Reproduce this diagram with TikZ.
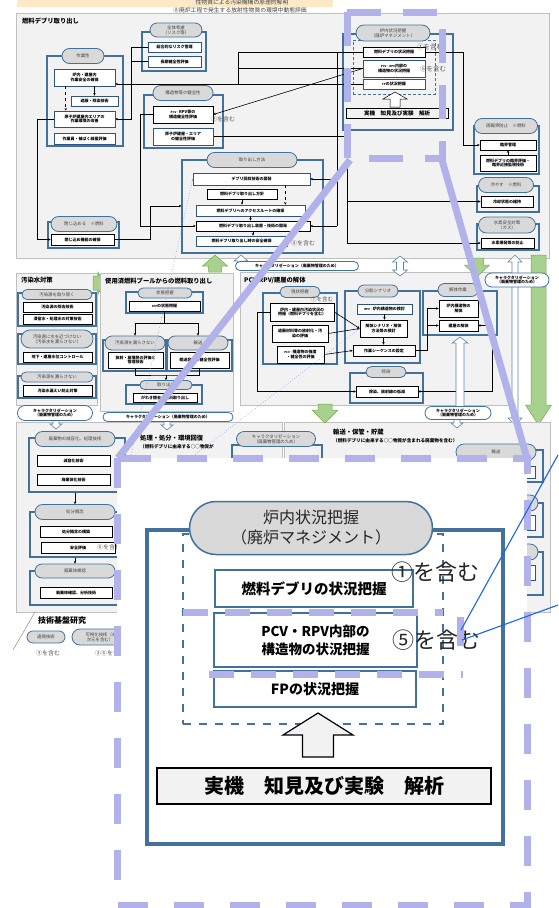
\documentclass[tikz,border=0pt]{standalone}
\usepackage{fontspec}
\setmainfont{Noto Sans CJK JP}
\usetikzlibrary{arrows.meta}
\definecolor{gb}{RGB}{65,113,156}
\definecolor{ib}{RGB}{47,84,130}
\definecolor{pg}{RGB}{242,242,242}
\definecolor{pb}{RGB}{191,191,191}
\definecolor{pl}{RGB}{217,217,217}
\definecolor{lav}{RGB}{178,178,235}
\definecolor{grn}{RGB}{169,209,142}
\definecolor{grnd}{RGB}{112,173,71}
\definecolor{bl}{RGB}{30,100,240}
\definecolor{peach}{RGB}{253,233,200}
\definecolor{dg}{RGB}{64,64,64}
\definecolor{labg}{RGB}{89,89,89}
\newcommand\ftiny{\fontsize{4}{4.7}\selectfont}
\newcommand\fsm{\fontsize{4.4}{5.2}\selectfont}
\newcommand\fti{\fontsize{6.3}{7}\selectfont}
\newcommand\bx[7][]{\pgfmathsetmacro\bxcx{(#3+#5)/2}\pgfmathsetmacro\bxcy{(#4+#6)/2}\pgfmathsetmacro\bxw{#5-#3}\pgfmathsetmacro\bxh{#6-#4}\node[ibox,minimum width=\bxw pt,minimum height=\bxh pt,#1] (#2) at (\bxcx,\bxcy) {#7};}
\newcommand\pl[7][]{\pgfmathsetmacro\plr{#6/2}\node[pill,minimum width=#5pt,minimum height=#6pt,rounded corners=\plr pt,#1] (#2) at (#3,#4) {#7};}
\newcommand\uparr[7]{\draw[#1] (#2,#3) -- (#2+#6,#3+#7) -- (#2+#5,#3+#7) -- (#2+#5,#4) -- (#2-#5,#4) -- (#2-#5,#3+#7) -- (#2-#6,#3+#7) -- cycle;}
\newcommand\dnarr[7]{\draw[#1] (#2,#3) -- (#2+#6,#3-#7) -- (#2+#5,#3-#7) -- (#2+#5,#4) -- (#2-#5,#4) -- (#2-#5,#3-#7) -- (#2-#6,#3-#7) -- cycle;}
\newcommand\dblarr[7]{\draw[#1] (#2,#3) -- (#2+#6,#3+#7) -- (#2+#5,#3+#7) -- (#2+#5,#4-#7) -- (#2+#6,#4-#7) -- (#2,#4) -- (#2-#6,#4-#7) -- (#2-#5,#4-#7) -- (#2-#5,#3+#7) -- (#2-#6,#3+#7) -- cycle;}
\begin{document}
\begin{tikzpicture}[x=1pt,y=-1pt,
 ln/.style={draw=black,line width=0.6pt},
 arr/.style={ln,-{Stealth[length=2.6pt,width=2.4pt]}},
 arr2/.style={ln,{Stealth[length=2.6pt,width=2.4pt]}-{Stealth[length=2.6pt,width=2.4pt]}},
 panel/.style={draw=pb,fill=pg,line width=0.8pt},
 grp/.style={draw=gb,line width=1.1pt,fill=none},
 ibox/.style={draw=ib,fill=white,line width=0.6pt,inner sep=0pt,align=center,font=\ftiny\bfseries},
 kb/.style={draw=black},
 pill/.style={draw=gb,fill=pl,line width=0.8pt,inner sep=0pt,align=center,font=\fsm,text=dg},
 cpill/.style={fill=white,font=\ftiny\bfseries,text=black},
 lab/.style={text=labg,font=\fontsize{6}{7}\selectfont,inner sep=0pt,anchor=west},
 ttl/.style={font=\fti\bfseries,anchor=west,inner sep=0pt},
 lavl/.style={draw=lav,line width=7pt},
 hol/.style={draw=black,fill=pg,line width=1.2pt},
 hol2/.style={draw=gb!85,fill=white,line width=0.6pt},
 grnarr/.style={draw=grnd,fill=grn,line width=0.5pt}]
\useasboundingbox (0,0) rectangle (558,908);
\fill[white] (0,0) rectangle (558,908);
% header
\fill[peach] (17,0) rectangle (333,7);
\node[font=\fontsize{5.8}{6}\selectfont,inner sep=0pt,text=dg] (h1) at (242,2.5) {性物質による汚染機構の原理的解明};
\node[font=\fontsize{5.8}{6}\selectfont,inner sep=0pt,text=dg] (h2) at (240,9.8) {⑧廃炉工程で発生する放射性物質の環境中動態評価};
% ================= top panel
\bx[panel]{Ptop}{16}{13}{549}{258}{}
\node[ttl] (ttop) at (22,21) {燃料デブリ取り出し};
\bx[grp]{gsagyo}{47}{56}{123}{146}{}
\bx[grp]{gzentai}{142}{32}{206}{71}{}
\bx[grp]{gkozo}{144}{95}{223}{148}{}
\bx[grp]{gronai}{343}{34}{453}{130}{}
\bx[grp,draw=gb,line width=0.7pt,dash pattern=on 3pt off 2pt]{gronaid}{353}{40}{435}{94}{}
\bx[grp]{gtori}{182}{160}{323}{253}{}
\bx[grp]{gheik}{48}{222}{119}{248}{}
\bx[grp]{gsair}{474}{126}{539}{174}{}
\bx[grp]{ghiya}{477}{186}{539}{212}{}
\bx[grp]{gsuis}{477}{224}{539}{250}{}
% boxes (defined first as coordinates via nodes drawn later) -> draw connectors after nodes using background order trick: draw boxes, then lines, then redraw? simpler: lines first using typed anchors
% connectors top
\draw[ln] (238,52) -- (463,52) -- (463,145);
\draw[ln] (238,52) -- (238,84);
\draw[ln] (238,68.5) -- (363,68.5);
\draw[ln] (337,52) -- (337,226);
\draw[ln] (347,136.5) -- (347,243);
\draw[ln] (213,136.5) -- (347,136.5);
% ---- boxes & pills top
\pl{pzentai}{176}{30}{52}{14}{全体考慮\\（リスク等）}
\bx{bz1}{148}{42}{201}{52}{総合的なリスク管理}
\bx{bz2}{148}{56}{201}{67}{長期健全性評価}
\pl{psagyo}{83}{56}{42}{15}{作業性}
\bx{bs1}{54}{69}{115}{86}{炉内・建屋内\\作業安全の確保}
\bx{bs2}{71}{96}{118}{106}{遮蔽・除染技術}
\bx{bs3}{54}{111}{115}{127}{原子炉建屋内エリアの\\作業環境の改善}
\bx{bs4}{54}{133}{115}{144}{作業員・被ばく線量評価}
\pl{pkozo}{183}{93}{60}{15}{構造物等の健全性}
\bx[kb]{bk1}{153}{106}{213}{123}{{\fontsize{2.8}{3}\selectfont PCV・}RPV等の\\構造健全性評価}
\bx{bk2}{153}{128}{213}{145}{原子炉建屋・エリア\\の健全性評価}
\node[lab] (l2) at (211,119) {②を含む};
\pl{pronai}{393}{33}{74}{16}{炉内状況把握\\（廃炉マネジメント）}
\bx[kb]{br1}{363}{47}{425}{57}{燃料デブリの状況把握}
\bx{br2}{363}{60}{425}{77}{{\fontsize{2.8}{3}\selectfont PCV・RPV}内部の\\構造物の状況把握}
\bx{br3}{363}{79}{425}{89}{{\fontsize{2.8}{3}\selectfont FP}の状況把握}
\uparr{draw=black,fill=white,line width=0.5pt}{395}{92}{107}{5}{12}{7}
\bx[kb,fill=pg,font=\fontsize{5.5}{6}\selectfont\bfseries]{br4}{346}{108}{448}{118}{実機　知見及び実験　解析}
\node[lab,font=\fontsize{6.5}{7}\selectfont] (l1s) at (417,47) {①を含む};
\node[lab,font=\fontsize{6.5}{7}\selectfont] (l5s) at (420,69) {⑤を含む};
\pl{ptori}{252}{160}{90}{15}{取り出し方法}
\bx{bt1}{193}{173}{310}{185}{デブリ回収技術の開発}
\bx[kb]{bt2}{207}{189}{277}{199}{燃料デブリ取り出し方針}
\bx{bt3}{196}{205}{305}{216}{燃料デブリへのアクセスルートの確保}
\bx[kb]{bt4}{196}{221}{310}{231}{燃料デブリ取り出し装置・技術の開発}
\bx{bt5}{196}{236}{287}{246}{燃料デブリ取り出し時の安全確保}
\node[lab] (l4) at (291,243) {④を含む};
\pl{pheik}{84}{224}{66}{15}{閉じ込める　※燃料}
\bx[kb]{bh1}{51}{234}{114}{245}{閉じ込め機能の確保}
\pl{psair}{506}{126}{63}{15}{再臨界防止　※燃料}
\bx[kb]{bc1}{480}{140}{536}{150}{臨界管理}
\bx[kb]{bc2}{480}{155}{536}{171}{燃料デブリの臨界評価・\\臨界近接監視技術}
\pl{phiya}{506}{185}{55}{15}{冷やす　※燃料}
\bx[kb]{by1}{481}{196}{533}{207}{冷却状態の維持}
\pl{psuis}{507}{225}{57}{16}{水素安全対策\\（ガス）}
\bx[kb]{bw1}{481}{238}{534}{248}{水素爆発等の防止}
% arrows top (node based)
\draw[arr] (bz1.west) -- ++(-16,0) |- (bs3.east);
\draw[ln] (bz2.west) -- ++(-16,0);
\draw[arr] (bs3.west) -- ++(-16,0) |- (bh1.west);
\draw[arr] (bh1.east) -- ++(36,0) |- (gtori.west |- 0,206);
\draw[arr] (bk1.west) -- ++(-12,0) |- (bt4.west);
\draw[arr] (br3.west) -- (bs1.east |- br3.west);
\draw[arr] (br2.west) -- (bk1.east);
\draw[arr] (337,226) -- (bt4.east);
\draw[arr] (337,179) -- (bt1.east);
\draw[arr] (347,243) -- (bw1.west);
\draw[arr] (347,201.5) -- (by1.west);
\draw[arr] (463,145) -- (bc1.west);
\draw[arr] (bc2.north) -- (bc1.south);
\draw[arr,dashed] ([xshift=12pt]bs1.south west) -- ([xshift=12pt]bs3.north west);
\draw[arr] (bs1.south -| bs2.north) -- (bs2.north);
\draw[arr] (bt2.south) -- (bt2.south |- bt3.north);
\draw[arr] (bt3.south) -- (bt3.south |- bt4.north);
\draw[arr] (bt4.south) -- (bt4.south |- bt5.north);
\draw[arr,dashed] ([xshift=-25pt]bt1.south east) -- ([xshift=-20pt]bt3.north east);
% ================= middle
\bx[panel]{Posen}{16}{273}{97}{405}{}
\node[ttl] (tosen) at (21,280) {汚染水対策};
\bx[grp]{go1}{18}{293}{96}{326}{}
\bx[grp]{go2}{18}{334}{96}{364}{}
\bx[grp]{go3}{18}{376}{96}{398}{}
\pl{po1}{57}{294.5}{70}{10}{汚染源を取り除く}
\bx[kb]{bo1}{23}{302}{92}{312}{汚染源の除去技術}
\bx[kb]{bo2}{23}{314}{92}{324}{滞留水・処理水の対策技術}
\pl{po2}{57}{339}{72}{18}{汚染源に水を近づけない\\（汚染水を漏らさない）}
\bx[kb]{bo3}{23}{352}{92}{362}{地下・建屋水位コントロール}
\pl{po3}{57}{377}{72}{10}{汚染源を漏らさない}
\bx[kb]{bo4}{23}{385}{92}{396}{汚染水漏えい防止対策}
\draw[grnarr] (93,276) -- (98,276) -- (98,272) -- (104,283) -- (98,294) -- (98,290) -- (93,290) -- cycle;
\bx[panel]{Pspf}{100}{273}{233}{411}{}
\node[ttl] (tspf) at (105,281) {使用済燃料プールからの燃料取り出し};
\bx[grp]{gu0}{126}{292}{203}{313}{}
\bx[grp]{gu1}{103}{340}{166}{371}{}
\bx[grp]{gu2}{167}{340}{232}{371}{}
\bx[grp]{gu3}{126}{385}{202}{404}{}
\pl{pu0}{165}{293}{54}{10}{状態把握}
\bx[kb]{bu0}{129}{301}{200}{311}{{\fontsize{2.8}{3}\selectfont SFP}の状態把握}
\pl{pu1}{135}{343}{60}{14}{汚染源を漏らさない}
\bx[kb]{bu1}{108}{352}{163}{368}{放射・崩壊熱の評価と\\管理技術}
\pl{pu2}{198}{343}{60}{14}{輸送}
\bx[kb]{bu2}{170}{352}{229}{368}{輸送容器の健全性評価}
\pl{pu3}{166}{385}{52}{9}{取り出し}
\bx[kb]{bu3}{133}{393}{197}{402}{がれき撤去・燃料取り出し}
\draw[ln] (bu0.south) -- ++(0,12) coordinate (uj);
\draw[ln] (135,323) -- (198,323);
\draw[arr] (135,323) -- (pu1.north);
\draw[arr] (198,323) -- (pu2.north);
\draw[ln] (bu1.south) |- (166,375) -| (bu2.south);
\draw[arr] (166,375) -- (pu3.north);
% PCV panel
\bx[panel]{Ppcv}{240}{272}{513}{405}{}
\node[ttl] (tpcv) at (244,280) {PCV/RPV/建屋の解体};
\bx[grp]{gg}{263}{293}{337}{364}{}
\bx[grp]{gq}{345}{291}{420}{363}{}
\bx[grp]{gk}{423}{291}{497}{335}{}
\bx[grp]{gd}{350}{373}{423}{403}{}
\draw[arr] (270,312) -- ++(-13,0) |- (356,391.5);
\draw[arr2] (478,325.5) -- ++(14,0) |- (418,391.5);
\draw[ln] (415,350.5) -- (427,350.5) -- (427,308.5);
\pl{pg}{300}{292}{40}{11}{現状把握}
\bx[kb]{bg1}{270}{303}{334}{321}{炉内・建屋内汚染状況の\\把握（燃料デブリを含む）}
\bx[kb]{bg2}{272}{325}{328}{342}{遮蔽材料等の放射化・汚\\染の評価}
\bx[kb]{bg3}{277}{346}{324}{363}{{\fontsize{2.8}{3}\selectfont PCV・}構造物の強度\\・健全性の評価}
\node[lab,anchor=center,font=\fontsize{5.5}{6}\selectfont] (l1m) at (322,299) {①を含む};
\pl{pq}{378}{291}{40}{12}{分割シナリオ}
\bx{bq1}{357}{304}{412}{314}{{\fontsize{2.8}{3}\selectfont RPV・}炉内構造物の検討}
\bx[kb]{bq2}{360}{320}{407}{337}{解体シナリオ・解体\\方法等の検討}
\bx[kb]{bq3}{353}{345}{415}{356}{作業シーケンスの設定}
\pl{pk}{458}{290}{40}{13}{解体作業}
\bx[kb]{bk3}{439}{300}{478}{317}{炉内構造物の\\解体}
\bx[kb]{bk4}{439}{320}{478}{331}{建屋の解体}
\pl{pd}{386}{372}{40}{11}{除染}
\bx[kb]{bd1}{356}{386}{418}{397}{除染、放射線の低減}
\draw[arr] (bg1.east) -- (bq2.west);
\draw[arr] (bg2.east) -- (bq2.west);
\draw[arr] (bg3.east) -- (bq3.west);
\draw[arr] (bq1.south) -- (bq1.south |- bq2.north);
\draw[arr] (bq2.south) -- (bq2.south |- bq3.north);
\draw[arr] (427,308.5) -- (bk3.west);
\draw[arr] (427,325.5) -- (bk4.west);
\uparr{hol2}{460}{337}{407}{4}{8}{6}
% arrows between sections
\uparr{grnarr}{215}{255}{272}{6.5}{12.5}{11}
\uparr{hol2}{241}{255}{265}{3}{7}{6}
\dblarr{hol2}{400}{256}{276}{3.5}{7.5}{6}
\dnarr{grnarr}{477}{277}{258}{6.5}{12.5}{12}
\dblarr{hol2}{515}{255}{425}{3}{7}{7}
\dnarr{grnarr}{538.5}{425}{255}{7.5}{13}{20}
\pl[cpill]{pc1}{297}{266}{123}{9}{キャラクタリゼーション（廃棄物管理のため）}
\pl[cpill]{pc2}{517}{280}{64}{14}{キャラクタリゼーション\\（廃棄物管理のため）}
% ================= bottom
\bx[panel]{Pshori}{16}{422}{282}{612}{}
\bx[panel]{Pyuso}{284}{422}{550}{612}{}
\dnarr{grnarr}{325}{423}{404}{7}{13}{13}
\dnarr{hol2}{56}{429}{420}{3}{6}{5}
\dnarr{hol2}{167}{430}{421}{3}{6}{5}
\dnarr{hol2}{457}{428}{419}{3}{6}{5}
\pl[cpill]{po4}{55}{413}{75}{15}{キャラクタリゼーション\\（廃棄物管理のため）}
\pl[cpill]{pc4}{168}{417}{130}{9}{キャラクタリゼーション（廃棄物管理のため）}
\pl[cpill]{pc3}{458}{413}{66}{13}{キャラクタリゼーション\\（廃棄物管理のため）}
\node[ttl] (tshori) at (140,438) {処理・処分・環境回復};
\node[ttl,font=\fontsize{4.6}{5}\selectfont\bfseries] (tshori2) at (140,447) {（燃料デブリに由来する○○物質が};
\node[ttl] (tyuso) at (333,432) {輸送・保管・貯蔵};
\node[ttl,font=\fontsize{4.6}{5}\selectfont\bfseries] (tyuso2) at (333,441) {（燃料デブリに由来する○○物質が含まれる廃棄物を含む）};
\bx[grp]{gcz}{232}{445}{322}{475}{}
\pl{pc5}{276}{439}{79}{15}{キャラクタリゼーション\\（廃棄物管理のため）}
\bx[grp]{gy1}{470}{450}{543}{482}{}
\bx[grp]{gy2}{470}{503}{543}{537}{}
\bx[grp]{gy3}{470}{552}{543}{595}{}
\pl{py1}{496}{452}{80}{16}{輸送}
\bx{byy1}{470}{466}{535}{478}{輸送容器}
\pl{py2}{503}{503}{70}{16}{保管}
\bx{byy2}{470}{515}{535}{530}{保管施設}
\pl{py3}{503}{552}{70}{16}{貯蔵}
\bx{byy3}{470}{565}{535}{580}{貯蔵施設}
\bx[grp]{gb1}{29}{438}{125}{492}{}
\bx[grp]{gb2}{30}{512}{125}{557}{}
\bx[grp]{gb3}{30}{571}{125}{605}{}
\pl{pb1}{75}{439}{80}{15}{廃棄物の減容化、処理技術}
\bx[kb]{bb1}{37}{455}{110}{466}{減容化技術}
\bx[kb]{bb2}{37}{474}{110}{485}{廃棄体化技術}
\pl{pb2}{75}{512}{80}{15}{処分概念}
\bx[kb]{bb3}{40}{526}{112}{537}{処分概念の構築}
\bx[kb]{bb4}{41}{542}{115}{553}{安全評価}
\node[lab] (l6) at (97,547.5) {⑥を含む};
\pl{pb3}{75}{571}{80}{14}{廃棄体検認}
\bx[kb]{bb5}{40}{587}{112}{598}{廃棄体確認、分析技術}
\draw[arr] (pb1.south |- gb1.south) -- (pb2.north);
\draw[arr] (pb2.south |- gb2.south) -- (pb3.north);
\draw[draw=black!45,line width=0.5pt] (35,612) -- (13,650);
\node[ttl,font=\fontsize{8}{9}\selectfont\bfseries] (tkiban) at (38,620) {技術基盤研究};
\pl{pe1}{46}{637}{38}{12}{遠隔技術}
\pl{pe2}{100}{637}{56}{16}{可視化技術（3\\次元を含む）}
\node[lab,anchor=center] (l3) at (48,653) {③を含む};
\node[lab] (l36) at (95,653) {③⑥を含む};
% dotted blue
\draw[draw=bl!60,dotted,line width=0.6pt,{Stealth[length=2pt]}-] (bt1.west) -- (130,460);
\draw[draw=bl!60,dotted,line width=0.6pt,{Stealth[length=2pt]}-] (bq2.west) -- (188,460);
% ================= inset
\fill[white] (117,458) rectangle (527,905);
\bx[grp,line width=4pt]{igrp}{147}{530}{503}{844}{}
\bx[grp,line width=2pt,dash pattern=on 8pt off 8pt]{idash}{183}{534}{443}{724}{}
\pl[font=\fontsize{16}{20}\selectfont,line width=1.5pt,text=black!85]{ipill}{311}{528}{243}{53}{炉内状況把握\\（廃炉マネジメント）}
\bx[draw=gb,line width=1.3pt,font=\fontsize{14.5}{18}\selectfont\bfseries]{ib1}{215}{570}{413}{607}{燃料デブリの状況把握}
\bx[draw=gb,line width=1.3pt,font=\fontsize{13.5}{18}\selectfont\bfseries]{ib2}{214}{613}{417}{667}{PCV・RPV内部の\\構造物の状況把握}
\bx[draw=gb,line width=1.3pt,font=\fontsize{14}{18}\selectfont\bfseries]{ib3}{214}{671}{416}{707}{FPの状況把握}
\uparr{hol}{318}{713}{757}{15.5}{35}{22}
\bx[draw=black,fill=pg,line width=2pt,font=\fontsize{20}{24}\selectfont\bfseries]{ib4}{157}{768}{491}{804}{実機　知見及び実験　解析}
\node[lab,font=\fontsize{22}{24}\selectfont,text=black!85] (il1) at (391,572) {①を含む};
\node[lab,font=\fontsize{22}{24}\selectfont,text=black!85] (il5) at (392,640) {⑤を含む};
% ================= lavender overlays
\draw[lavl,dash pattern=on 30pt off 26pt] (117,458) rectangle (527,905);
\draw[lavl,dash pattern=on 34pt off 22pt] (347,12) rectangle (442,158);
\draw[lavl] (350,160) -- (118,458);
\draw[lavl] (442,160) -- (528,462);
\draw[lavl,dash pattern=on 25pt off 17pt] (183,612) -- (443,612);
\draw[lavl,dash pattern=on 25pt off 17pt] (209,674) -- (463,674);
\draw[lavl] (460,617) -- (460,646);
% blue lines
\coordinate (ea) at (558,455);
\coordinate (eb) at (558,605);
\draw[draw=bl,line width=1.1pt] (461,630) -- (ea);
\draw[draw=bl,line width=1.1pt] (462,640) -- (eb);
\end{tikzpicture}
\end{document}
